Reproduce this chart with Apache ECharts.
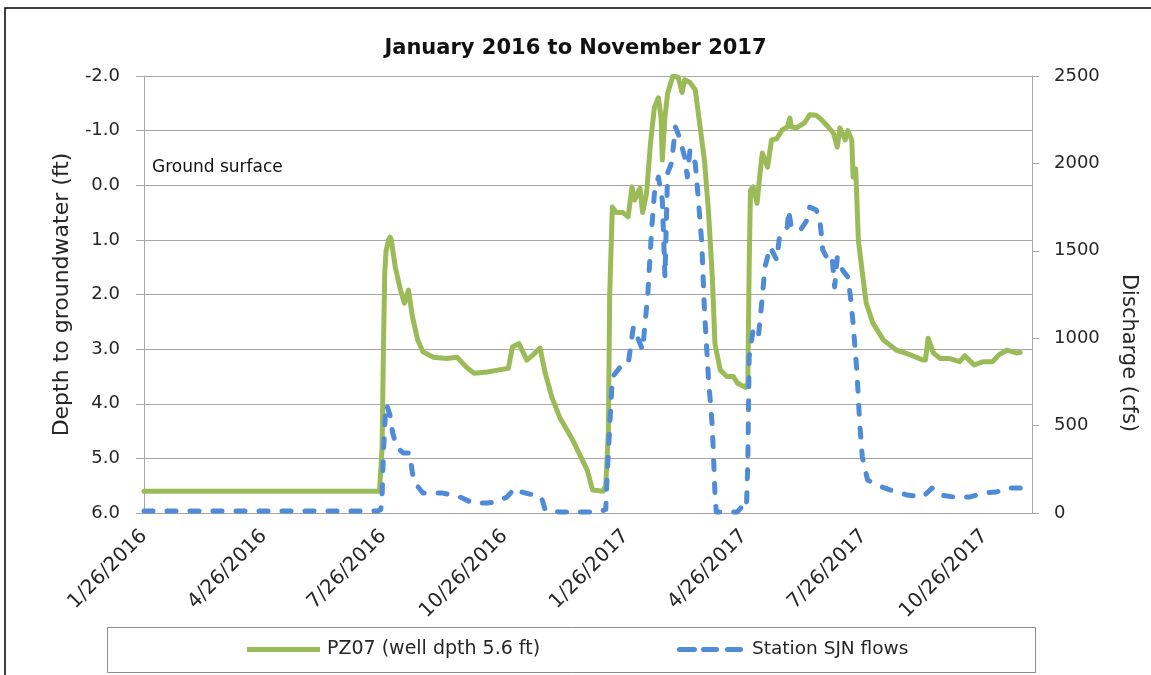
<!DOCTYPE html>
<html>
<head>
<meta charset="utf-8">
<script src="https://cdn.jsdelivr.net/npm/echarts@6/dist/echarts.min.js"></script>
<style>html,body{margin:0;padding:0;background:#fff;}#chart{width:1151px;height:675px;}</style>
</head>
<body>
<div id="chart"></div>
<script>
// ---- Data ----
const xTickDates = ['2016-01-26','2016-04-26','2016-07-26','2016-10-26','2017-01-26','2017-04-26','2017-07-26','2017-10-26'];
const xMinDate = '2016-01-26';
const xMaxDate = '2017-12-01';

// PZ07 depth to groundwater (ft), left axis
const pzDates = ['2016-01-26','2016-07-23','2016-07-24','2016-07-25','2016-07-26','2016-07-27','2016-07-28','2016-07-30','2016-07-31','2016-08-01','2016-08-04','2016-08-08','2016-08-11','2016-08-14','2016-08-17','2016-08-21','2016-08-25','2016-09-02','2016-09-12','2016-09-20','2016-09-27','2016-10-03','2016-10-13','2016-10-22','2016-10-29','2016-11-01','2016-11-06','2016-11-12','2016-11-17','2016-11-22','2016-11-26','2016-12-01','2016-12-07','2016-12-17','2016-12-28','2017-01-01','2017-01-09','2017-01-11','2017-01-13','2017-01-14','2017-01-16','2017-01-19','2017-01-24','2017-01-28','2017-01-31','2017-02-02','2017-02-06','2017-02-08','2017-02-11','2017-02-14','2017-02-17','2017-02-20','2017-02-22','2017-02-23','2017-02-25','2017-02-27','2017-03-03','2017-03-07','2017-03-10','2017-03-12','2017-03-16','2017-03-20','2017-03-23','2017-03-27','2017-03-30','2017-04-02','2017-04-04','2017-04-08','2017-04-13','2017-04-18','2017-04-21','2017-04-27','2017-04-29','2017-04-30','2017-05-01','2017-05-03','2017-05-06','2017-05-08','2017-05-10','2017-05-14','2017-05-17','2017-05-21','2017-05-25','2017-05-29','2017-05-31','2017-06-01','2017-06-05','2017-06-11','2017-06-15','2017-06-20','2017-06-24','2017-06-29','2017-07-03','2017-07-06','2017-07-08','2017-07-12','2017-07-14','2017-07-17','2017-07-18','2017-07-20','2017-07-22','2017-07-25','2017-07-28','2017-08-02','2017-08-10','2017-08-20','2017-08-30','2017-09-09','2017-09-11','2017-09-13','2017-09-17','2017-09-22','2017-09-29','2017-10-07','2017-10-11','2017-10-18','2017-10-25','2017-11-01','2017-11-06','2017-11-12','2017-11-19','2017-11-22'];
const pzDepth = [5.6,5.6,5.6,4.8,3.0,1.6,1.2,1.0,0.95,1.0,1.5,1.92,2.16,1.92,2.4,2.83,3.05,3.15,3.17,3.15,3.33,3.44,3.42,3.38,3.35,2.96,2.9,3.2,3.1,2.98,3.44,3.88,4.25,4.67,5.22,5.58,5.6,5.5,4.5,2.0,0.4,0.5,0.5,0.58,0.03,0.27,0.05,0.5,0.15,-0.77,-1.43,-1.6,-1.25,-0.46,-1.25,-1.68,-2.0,-1.98,-1.7,-1.93,-1.88,-1.75,-1.2,-0.46,0.45,1.68,2.9,3.38,3.5,3.5,3.62,3.7,3.62,1.5,0.09,0.03,0.33,-0.15,-0.59,-0.33,-0.83,-0.85,-1.01,-1.07,-1.23,-1.07,-1.05,-1.14,-1.29,-1.28,-1.2,-1.07,-0.96,-0.7,-1.05,-0.83,-1.0,-0.83,-0.15,-0.3,1.0,1.6,2.16,2.52,2.83,3.02,3.1,3.2,3.2,2.8,3.07,3.17,3.17,3.23,3.12,3.29,3.23,3.23,3.1,3.02,3.07,3.06];

// Station SJN flows (cfs), right axis
const sjnDates = ['2016-01-26','2016-07-22','2016-07-24','2016-07-25','2016-07-26','2016-07-27','2016-07-28','2016-07-29','2016-07-31','2016-08-02','2016-08-05','2016-08-10','2016-08-15','2016-08-17','2016-08-19','2016-08-25','2016-09-09','2016-09-22','2016-10-02','2016-10-13','2016-10-20','2016-10-28','2016-11-03','2016-11-08','2016-11-17','2016-11-23','2016-11-26','2016-12-07','2017-01-06','2017-01-11','2017-01-12','2017-01-14','2017-01-16','2017-01-22','2017-01-28','2017-02-01','2017-02-04','2017-02-08','2017-02-12','2017-02-15','2017-02-17','2017-02-20','2017-02-23','2017-02-25','2017-02-27','2017-03-02','2017-03-05','2017-03-08','2017-03-12','2017-03-14','2017-03-16','2017-03-20','2017-03-22','2017-03-25','2017-03-27','2017-03-30','2017-04-02','2017-04-04','2017-04-05','2017-04-21','2017-04-27','2017-04-28','2017-04-29','2017-04-30','2017-05-03','2017-05-07','2017-05-10','2017-05-12','2017-05-16','2017-05-21','2017-05-23','2017-05-29','2017-05-30','2017-06-01','2017-06-08','2017-06-13','2017-06-15','2017-06-20','2017-06-23','2017-06-25','2017-06-29','2017-07-02','2017-07-04','2017-07-06','2017-07-10','2017-07-14','2017-07-16','2017-07-18','2017-07-21','2017-07-23','2017-07-25','2017-07-29','2017-08-05','2017-08-15','2017-08-28','2017-09-09','2017-09-16','2017-09-22','2017-10-02','2017-10-15','2017-10-25','2017-11-04','2017-11-12','2017-11-22'];
const sjnFlow = [12,12,20,100,343,500,620,606,560,458,378,343,343,229,172,114,114,92,57,57,63,92,143,120,103,92,17,6,6,20,206,492,778,835,850,1064,1007,932,1258,1636,1830,1922,1790,1350,1945,2002,2208,2150,2036,1922,2076,2002,1830,1544,1161,778,492,114,6,6,57,40,300,892,1047,1007,1236,1407,1522,1447,1579,1636,1733,1636,1619,1676,1750,1733,1659,1504,1447,1464,1293,1464,1390,1350,1236,1087,801,515,320,189,160,132,103,92,143,103,92,92,114,120,143,143];

// ---- Chart ----
function parseLocal(s){ const p = s.split('-').map(Number); return new Date(p[0], p[1]-1, p[2]).getTime(); }
function fmtDate(v){ const d = new Date(v); return (d.getMonth()+1) + '/' + d.getDate() + '/' + d.getFullYear(); }

const FONT = 'DejaVu Sans';
const TXT = '#262626';
const GRID = '#a6a6a6';
const GREEN = '#9BBB59';
const BLUE = '#4F8BD6';
const PZ_NAME = 'PZ07 (well dpth 5.6 ft)';
const SJN_NAME = 'Station SJN flows';

const chart = echarts.init(document.getElementById('chart'), null, {renderer:'canvas'});
const tickVals = xTickDates.map(parseLocal);

chart.setOption({
  backgroundColor: '#ffffff',
  animation: false,
  textStyle: {fontFamily: FONT},
  title: {
    text: 'January 2016 to November 2017',
    left: 'center', top: 33,
    textStyle: {fontFamily: FONT, fontWeight: 'bold', fontSize: 21, color: '#111'}
  },
  grid: {left: 144, right: 119, top: 76, bottom: 162},
  legend: [
    {left: 247, top: 640, padding: 0, itemWidth: 73, itemHeight: 5,
      textStyle: {fontFamily: FONT, fontSize: 19, color: TXT, padding: [0,0,0,2]},
      data: [{name: PZ_NAME, icon: 'path://M0,0h73v5h-73z'}]},
    {left: 677, top: 640, padding: 0, itemWidth: 66, itemHeight: 5,
      textStyle: {fontFamily: FONT, fontSize: 18.5, color: TXT, padding: [0,0,0,4]},
      data: [{name: SJN_NAME, icon: 'path://M2.5,0h15a2.5,2.5 0 0 1 0,5h-15a2.5,2.5 0 0 1 0,-5z M26.5,0h13a2.5,2.5 0 0 1 0,5h-13a2.5,2.5 0 0 1 0,-5z M50.5,0h13a2.5,2.5 0 0 1 0,5h-13a2.5,2.5 0 0 1 0,-5z'}]}
  ],
  xAxis: {
    type: 'value',
    min: parseLocal(xMinDate), max: parseLocal(xMaxDate),
    axisLine: {show: true, lineStyle: {color: GRID, width: 1}},
    axisTick: {show: false},
    splitLine: {show: false},
    axisLabel: {
      customValues: tickVals,
      rotate: 45, margin: 20,
      fontFamily: FONT, fontSize: 20, color: TXT,
      formatter: fmtDate, hideOverlap: false, showMinLabel: true, showMaxLabel: true
    }
  },
  yAxis: [{
    type: 'value', inverse: true, min: -2, max: 6, interval: 1,
    name: 'Depth to groundwater (ft)', nameLocation: 'middle', nameGap: 71,
    nameTextStyle: {fontFamily: FONT, fontSize: 22, color: TXT},
    axisLine: {show: true, lineStyle: {color: GRID, width: 1}},
    axisTick: {show: true, length: 8, lineStyle: {color: GRID}},
    splitLine: {show: true, lineStyle: {color: GRID, width: 1}},
    axisLabel: {fontFamily: FONT, fontSize: 18, color: TXT, margin: 24, formatter: v => v.toFixed(1)}
  }, {
    type: 'value', position: 'right', min: 0, max: 2500, interval: 500,
    axisLine: {show: true, lineStyle: {color: GRID, width: 1}},
    axisTick: {show: true, length: 7, lineStyle: {color: GRID}},
    splitLine: {show: false},
    axisLabel: {fontFamily: FONT, fontSize: 18, color: TXT, margin: 22, formatter: v => String(v)}
  }],
  graphic: [
    {type: 'rect', silent: true, shape: {x: 5, y: 8, width: 1300, height: 900}, style: {fill: 'none', stroke: '#000', lineWidth: 1.5}},
    {type: 'rect', silent: true, shape: {x: 107.5, y: 627.5, width: 928, height: 45}, style: {fill: 'none', stroke: '#8c8c8c', lineWidth: 1}},
    {type: 'text', silent: true, x: 152, y: 168, style: {text: 'Ground surface', fontFamily: FONT, fontSize: 17, fill: '#111', verticalAlign: 'middle'}},
    {type: 'text', silent: true, x: 1128, y: 353, rotation: -Math.PI/2, style: {text: 'Discharge (cfs)', fontFamily: FONT, fontSize: 21, fill: TXT, align: 'center', verticalAlign: 'middle'}}
  ],
  series: [{
    name: PZ_NAME, type: 'line', yAxisIndex: 0,
    symbol: 'none', smooth: false,
    color: GREEN,
    lineStyle: {color: GREEN, width: 5, join: 'round', cap: 'round'},
    data: pzDates.map((d, i) => [parseLocal(d), pzDepth[i]])
  }, {
    name: SJN_NAME, type: 'line', yAxisIndex: 1,
    symbol: 'none', smooth: false,
    color: BLUE,
    lineStyle: {color: BLUE, width: 5, type: [9, 14], cap: 'round', join: 'round'},
    data: sjnDates.map((d, i) => [parseLocal(d), sjnFlow[i]])
  }]
});
</script>
</body>
</html>
